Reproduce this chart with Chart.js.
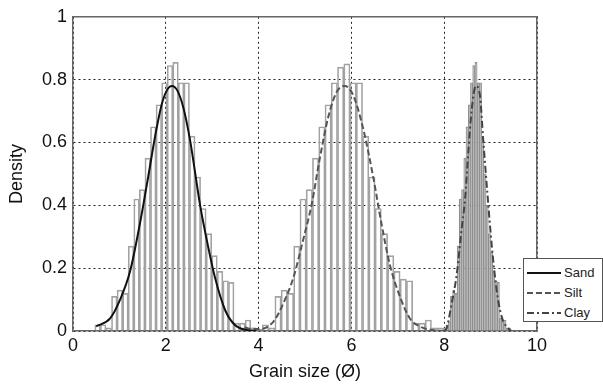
<!DOCTYPE html>
<html>
<head>
<meta charset="utf-8">
<script src="https://cdn.jsdelivr.net/npm/chart.js@4.4.1/dist/chart.umd.min.js"></script>
<style>
    html, body { margin: 0; padding: 0; background: #fff; }
    #wrap { position: relative; width: 603px; height: 388px; }
    #legend {
        position: absolute; left: 523px; top: 258px; width: 78px; height: 62px;
        border: 1px solid #555; background: #fff;
        font: 13px "Liberation Sans", Arial, sans-serif; color: #222;
    }
    #legend .row { position: absolute; left: 0; width: 78px; height: 20px; }
    #legend svg { position: absolute; left: 3px; top: 0; }
    #legend span { position: absolute; left: 40px; top: 2px; line-height: 16px; }
</style>
</head>
<body>
<div id="wrap">
    <canvas id="chart" width="603" height="388"></canvas>
    <div id="legend">
        <div class="row" style="top:4px"><svg width="34" height="20"><line x1="0" y1="10" x2="34" y2="10" stroke="#111" stroke-width="2"/></svg><span>Sand</span></div>
        <div class="row" style="top:24px"><svg width="34" height="20"><line x1="0" y1="10" x2="34" y2="10" stroke="#555" stroke-width="2" stroke-dasharray="6,3"/></svg><span>Silt</span></div>
        <div class="row" style="top:44px"><svg width="34" height="20"><line x1="0" y1="10" x2="34" y2="10" stroke="#444" stroke-width="2" stroke-dasharray="7,3,2,3"/></svg><span>Clay</span></div>
    </div>
</div>
<script>
// Tick values and labels
const xTicks = [0, 2, 4, 6, 8, 10];
const yTicks = [0, 0.2, 0.4, 0.6, 0.8, 1];
const yTickLabels = ['0', '0.2', '0.4', '0.6', '0.8', '1'];

// Histogram bin centres and densities
const sandBinX = [0.53, 0.65, 0.77, 0.89, 1.01, 1.13, 1.25, 1.37, 1.49, 1.61, 1.73, 1.85, 1.97, 2.09, 2.21,
    2.33, 2.45, 2.57, 2.69, 2.81, 2.93, 3.05, 3.17, 3.29, 3.41, 3.53, 3.65, 3.77, 3.89];
const sandDensity = [0.02, 0.02, 0.01, 0.11, 0.13, 0.12, 0.27, 0.42, 0.45, 0.55, 0.65, 0.72, 0.79, 0.845, 0.855,
    0.79, 0.79, 0.62, 0.49, 0.39, 0.31, 0.24, 0.19, 0.16, 0.155, 0.025, 0.025, 0.035, 0.01];

const siltBinX = [3.878, 4.013, 4.148, 4.283, 4.418, 4.553, 4.688, 4.823, 4.958, 5.093, 5.228, 5.363, 5.498,
    5.633, 5.768, 5.903, 6.038, 6.173, 6.308, 6.443, 6.578, 6.713, 6.848, 6.983, 7.118, 7.253, 7.388, 7.523,
    7.658, 7.793, 7.928];
const siltDensity = [0.01, 0.006, 0.02, 0.01, 0.11, 0.13, 0.12, 0.27, 0.42, 0.45, 0.55, 0.65, 0.72, 0.79, 0.84,
    0.85, 0.79, 0.79, 0.62, 0.49, 0.39, 0.31, 0.24, 0.19, 0.165, 0.16, 0.025, 0.025, 0.035, 0.01, 0.01];

const clayBinX = [8.014, 8.062, 8.110, 8.158, 8.206, 8.254, 8.302, 8.350, 8.398, 8.446, 8.494, 8.542, 8.590,
    8.638, 8.686, 8.734, 8.782, 8.830, 8.878, 8.926, 8.974, 9.022, 9.070, 9.118, 9.166, 9.214, 9.262, 9.310,
    9.358, 9.406];
const clayDensity = [0.01, 0.02, 0.03, 0.11, 0.13, 0.12, 0.27, 0.42, 0.45, 0.55, 0.65, 0.72, 0.79, 0.845, 0.855,
    0.79, 0.79, 0.62, 0.5, 0.4, 0.31, 0.25, 0.19, 0.16, 0.155, 0.04, 0.03, 0.035, 0.01, 0.01];

// Fitted curves, points
const sandCurveX = [0.5, 0.8, 1.01, 1.23, 1.44, 1.62, 1.77, 1.91, 2.02, 2.13, 2.25, 2.38, 2.52, 2.74, 2.91,
    3.06, 3.28, 3.49, 3.74, 3.95];
const sandCurveY = [0.015, 0.04, 0.098, 0.19, 0.34, 0.49, 0.62, 0.72, 0.765, 0.78, 0.765, 0.71, 0.61, 0.40,
    0.27, 0.17, 0.066, 0.019, 0.003, 0.0];

const siltCurveX = [3.7, 3.85, 4.03, 4.32, 4.53, 4.75, 4.96, 5.14, 5.32, 5.50, 5.68, 5.86, 6.04, 6.26, 6.47,
    6.65, 6.83, 7.05, 7.26, 7.48, 7.75, 8.0];
const siltCurveY = [0.012, 0.006, 0.006, 0.03, 0.087, 0.17, 0.29, 0.40, 0.55, 0.68, 0.76, 0.78, 0.75, 0.64,
    0.49, 0.34, 0.21, 0.108, 0.04, 0.014, 0.003, 0.0];

const clayCurveX = [8.0, 8.05, 8.16, 8.27, 8.38, 8.45, 8.52, 8.59, 8.68, 8.77, 8.84, 8.93, 9.02, 9.13, 9.24,
    9.38, 9.45];
const clayCurveY = [0.0, 0.008, 0.087, 0.18, 0.33, 0.42, 0.57, 0.70, 0.78, 0.75, 0.61, 0.44, 0.28, 0.13,
    0.045, 0.008, 0.0];

const pairs = (xs, ys) => xs.map((x, i) => ({ x: x, y: ys[i] }));

const font = { family: "'Liberation Sans', Arial, sans-serif", size: 18 };

function hiddenX() {
    return { type: 'linear', min: 0, max: 10, display: false, offset: false };
}

function lineSet(label, xs, ys, color, dash, width) {
    return {
        type: 'line', label: label, data: pairs(xs, ys), xAxisID: 'x', yAxisID: 'y',
        borderColor: color, borderWidth: width, borderDash: dash, pointRadius: 0,
        cubicInterpolationMode: 'monotone', fill: false, order: 0
    };
}

function barSet(label, xs, ys, axis, fillColor, edgeColor) {
    return {
        type: 'bar', label: label, data: pairs(xs, ys), xAxisID: axis, yAxisID: 'y',
        backgroundColor: fillColor, borderColor: edgeColor, borderWidth: 1, borderSkipped: 'start',
        barPercentage: 1, categoryPercentage: 1, grouped: false, order: 1
    };
}

const ctx = document.getElementById('chart').getContext('2d');
new Chart(ctx, {
    type: 'bar',
    data: {
        datasets: [
            lineSet('Sand', sandCurveX, sandCurveY, '#111', [], 2),
            lineSet('Silt', siltCurveX, siltCurveY, '#555', [6, 3], 2),
            lineSet('Clay', clayCurveX, clayCurveY, '#444', [7, 3, 2, 3], 2),
            barSet('Sand hist', sandBinX, sandDensity, 'xSand', 'rgba(255,255,255,0)', '#a2a2a2'),
            barSet('Silt hist', siltBinX, siltDensity, 'xSilt', 'rgba(255,255,255,0)', '#a2a2a2'),
            barSet('Clay hist', clayBinX, clayDensity, 'xClay', '#b8b8b8', '#8c8c8c')
        ]
    },
    options: {
        responsive: false,
        animation: false,
        layout: { padding: { top: 14, right: 66, left: 0, bottom: 0 } },
        plugins: { legend: { display: false }, tooltip: { enabled: false } },
        scales: {
            x: {
                type: 'linear', min: 0, max: 10, position: 'bottom', z: 1, offset: false,
                afterBuildTicks: s => { s.ticks = xTicks.map(v => ({ value: v })); },
                afterFit: s => { s.height = 57; },
                grid: { color: '#222', lineWidth: 1, drawTicks: false, offset: false },
                border: { display: true, color: '#666', width: 1.5, dash: [2, 3] },
                ticks: { color: '#111', font: font, padding: 4, maxRotation: 0 },
                title: { display: true, text: 'Grain size (Ø)', color: '#111', font: { ...font, lineHeight: 1.2 }, padding: { top: 0, bottom: 5 } }
            },
            y: {
                type: 'linear', min: 0, max: 1, position: 'left', z: 1,
                afterBuildTicks: s => { s.ticks = yTicks.map(v => ({ value: v })); },
                afterFit: s => { s.width = 73; },
                grid: { color: '#222', lineWidth: 1, drawTicks: false },
                border: { display: true, color: '#666', width: 1.5, dash: [2, 3] },
                ticks: { color: '#111', font: font, padding: 6, callback: (v, i) => yTickLabels[i] },
                title: { display: true, text: 'Density', color: '#111', font: { ...font, lineHeight: 1.2 }, padding: { top: 6, bottom: 0 } }
            },
            xTop: {
                type: 'linear', min: 0, max: 10, position: 'top', offset: false,
                afterFit: s => { s.height = 0; },
                grid: { display: false },
                border: { display: true, color: '#666', width: 1.5 },
                ticks: { display: false }
            },
            yRight: {
                type: 'linear', min: 0, max: 1, position: 'right',
                afterFit: s => { s.width = 0; },
                grid: { display: false },
                border: { display: true, color: '#666', width: 1.5 },
                ticks: { display: false }
            },
            xSand: hiddenX(),
            xSilt: hiddenX(),
            xClay: hiddenX()
        }
    }
});
</script>
</body>
</html>
